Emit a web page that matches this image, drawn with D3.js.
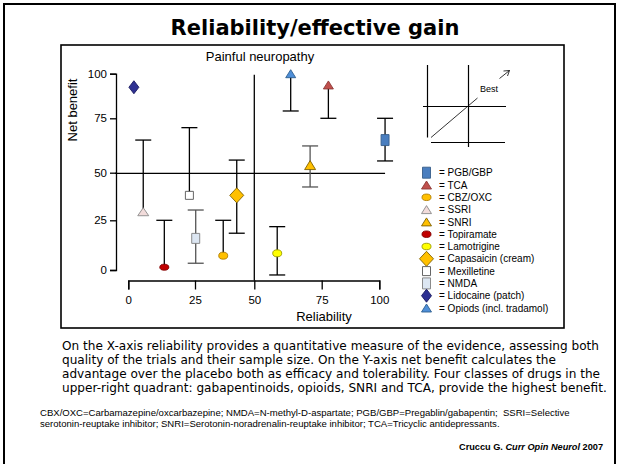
<!DOCTYPE html>
<html>
<head>
<meta charset="utf-8">
<script src="https://cdn.jsdelivr.net/npm/d3@7"></script>
<style>
  body { margin: 0; background: #fff; }
  svg { display: block; }
  .axis text { font-family: "Liberation Sans", Arial, sans-serif; font-size: 11.5px; fill: #000; }
  .axis path, .axis line { stroke: #000; stroke-width: 1.3; }
</style>
</head>
<body>
<div id="chart"></div>
<script>
// data
var drugs = ["PGB/GBP", "TCA", "CBZ/OXC", "SSRI", "SNRI", "Topiramate", "Lamotrigine",
             "Capasaicin (cream)", "Mexilletine", "NMDA", "Lidocaine (patch)", "Opiods (incl. tradamol)"];
var reliability = [102.5, 77.9, 36.9, 5.6, 70.7, 13.5, 58.5, 42.6, 22.9, 25.3, 2.1, 63.5];
var netBenefit  = [65, 93.7, 7.2, 29.5, 53.5, 1.4, 8.4, 38.1, 38.1, 15.9, 92.4, 100];
var errLow      = [55.4, 75, null, null, 42.5, null, -2.5, 18.5, null, 3.4, null, 79.1];
var errHigh     = [75, null, 25, 65, 62.3, 25, 21.8, 55.8, 70.7, 30.4, null, null];
var xTicks = [0, 25, 50, 75, 100];
var yTicks = [0, 25, 50, 75, 100];

// marker look for each drug
var look = {
    "PGB/GBP":              { shape: "rect",    w: 8,  h: 11, fill: "#4a7ebf", stroke: "#385d8a" },
    "TCA":                  { shape: "tri",     w: 10, h: 8,  fill: "#c0504d", stroke: "#8c3836" },
    "CBZ/OXC":              { shape: "ellipse", w: 9,  h: 7,  fill: "#ffc000", stroke: "#b07d00" },
    "SSRI":                 { shape: "tri",     w: 11, h: 8,  fill: "#f2dcdb", stroke: "#8a8a8a" },
    "SNRI":                 { shape: "tri",     w: 11, h: 9,  fill: "#ffc000", stroke: "#7f6000" },
    "Topiramate":           { shape: "ellipse", w: 9,  h: 6,  fill: "#c00000", stroke: "#800000" },
    "Lamotrigine":          { shape: "ellipse", w: 9,  h: 7,  fill: "#ffff00", stroke: "#9a9a00" },
    "Capasaicin (cream)":   { shape: "diamond", w: 14, h: 15, fill: "#ffc000", stroke: "#7f6000" },
    "Mexilletine":          { shape: "rect",    w: 8,  h: 8,  fill: "#ffffff", stroke: "#555" },
    "NMDA":                 { shape: "rect",    w: 8,  h: 10, fill: "#dce6f2", stroke: "#7f7f7f" },
    "Lidocaine (patch)":    { shape: "diamond", w: 10, h: 13, fill: "#2e3192", stroke: "#1a1a60" },
    "Opiods (incl. tradamol)": { shape: "tri",  w: 10, h: 8,  fill: "#4f8fd8", stroke: "#2c5d8f" }
};
var grayBars = { "SNRI": true, "NMDA": true };

function shapePath(s) {
    var w = s.w / 2, h = s.h / 2;
    if (s.shape == "rect") return `M${-w},${-h}H${w}V${h}H${-w}Z`;
    if (s.shape == "tri") return `M0,${-h}L${w},${h}L${-w},${h}Z`;
    if (s.shape == "diamond") return `M0,${-h}L${w},0L0,${h}L${-w},0Z`;
    // ellipse
    return `M${-w},0A${w},${h} 0 1,0 ${w},0A${w},${h} 0 1,0 ${-w},0Z`;
}

var svg = d3.select("#chart").append("svg")
    .attr("width", 620)
    .attr("height", 464);

// slide frame
svg.append("rect")
    .attr("x", 4).attr("y", 4)
    .attr("width", 611).attr("height", 480)
    .attr("fill", "none").attr("stroke", "#000").attr("stroke-width", 2);

svg.append("text")
    .attr("x", 315).attr("y", 35)
    .attr("text-anchor", "middle")
    .attr("font-family", "DejaVu Sans, Verdana, sans-serif")
    .attr("font-weight", "bold")
    .attr("font-size", "21px")
    .text("Reliability/effective gain");

// chart box
svg.append("rect")
    .attr("x", 61).attr("y", 45)
    .attr("width", 503).attr("height", 283)
    .attr("fill", "none").attr("stroke", "#000").attr("stroke-width", 1.6);

// hand drawn axes are uneven, so the scales are piecewise
var xScale = d3.scaleLinear().domain(xTicks).range([128.3, 195, 254.3, 321.7, 379.3]);
var yScale = d3.scaleLinear().domain(yTicks).range([270, 220.3, 172.7, 118.3, 73.7]);
var xAxisY = 280.5, yAxisX = 116;

svg.append("g")
    .attr("class", "axis")
    .attr("transform", `translate(0, ${xAxisY})`)
    .call(d3.axisBottom(xScale).tickValues(xTicks).tickSize(9).tickPadding(6));

svg.append("g")
    .attr("class", "axis")
    .attr("transform", `translate(${yAxisX}, 0)`)
    .call(d3.axisLeft(yScale).tickValues(yTicks).tickSize(6).tickPadding(3));

svg.selectAll(".axis").attr("font-family", null).attr("font-size", null);

// quadrant lines
svg.append("line")
    .attr("x1", xScale(50)).attr("x2", xScale(50))
    .attr("y1", yScale(100) + 1).attr("y2", xAxisY)
    .attr("stroke", "#000").attr("stroke-width", 1.3);
svg.append("line")
    .attr("x1", xScale(-5)).attr("x2", xScale(102.5))
    .attr("y1", yScale(50) + 0.6).attr("y2", yScale(50) + 0.6)
    .attr("stroke", "#000").attr("stroke-width", 1.3);

var label = { "font-family": "Liberation Sans, Arial, sans-serif", "font-size": "13px" };
svg.append("text")
    .attr("x", 260).attr("y", 61)
    .attr("text-anchor", "middle")
    .attr("font-family", label["font-family"]).attr("font-size", label["font-size"])
    .text("Painful neuropathy");
svg.append("text")
    .attr("transform", "translate(77, 110) rotate(-90)")
    .attr("text-anchor", "middle")
    .attr("font-family", label["font-family"]).attr("font-size", label["font-size"])
    .text("Net benefit");
svg.append("text")
    .attr("x", 324).attr("y", 321)
    .attr("text-anchor", "middle")
    .attr("font-family", label["font-family"]).attr("font-size", label["font-size"])
    .text("Reliability");

// error bars
var rows = drugs.map((d, i) => ({
    drug: d, x: reliability[i], y: netBenefit[i], lo: errLow[i], hi: errHigh[i]
}));
var capW = 8;
var bars = svg.append("g");
rows.forEach(function (r) {
    var col = grayBars[r.drug] ? "#555" : "#000";
    var top = r.hi != null ? r.hi : r.y;
    var bot = r.lo != null ? r.lo : r.y;
    if (top == bot) return;
    bars.append("line")
        .attr("x1", xScale(r.x)).attr("x2", xScale(r.x))
        .attr("y1", yScale(top)).attr("y2", yScale(bot))
        .attr("stroke", col).attr("stroke-width", 1.3);
    [r.hi, r.lo].forEach(function (v) {
        if (v == null) return;
        bars.append("line")
            .attr("x1", xScale(r.x) - capW).attr("x2", xScale(r.x) + capW)
            .attr("y1", yScale(v)).attr("y2", yScale(v))
            .attr("stroke", col).attr("stroke-width", 1.3);
    });
});

// markers
svg.append("g").selectAll("path")
    .data(rows)
    .enter()
    .append("path")
    .attr("transform", d => `translate(${xScale(d.x)}, ${yScale(d.y)})`)
    .attr("d", d => shapePath(look[d.drug]))
    .attr("fill", d => look[d.drug].fill)
    .attr("stroke", d => look[d.drug].stroke)
    .attr("stroke-width", 0.9);

// "Best" sketch
var sketch = svg.append("g").attr("stroke", "#000").attr("stroke-width", 1.2);
sketch.append("line").attr("x1", 427.5).attr("x2", 427.5).attr("y1", 65).attr("y2", 137.5);
sketch.append("line").attr("x1", 468.5).attr("x2", 468.5).attr("y1", 65).attr("y2", 147);
sketch.append("line").attr("x1", 423).attr("x2", 506).attr("y1", 106.5).attr("y2", 106.5);
sketch.append("line").attr("x1", 431).attr("x2", 505).attr("y1", 142.5).attr("y2", 142.5);
sketch.append("line").attr("x1", 431).attr("y1", 137.5).attr("x2", 477.5).attr("y2", 98)
    .attr("stroke-width", 0.8);
sketch.append("line").attr("x1", 499.5).attr("y1", 78.5).attr("x2", 509.5).attr("y2", 70.5)
    .attr("stroke-width", 0.8);
sketch.append("path").attr("d", "M503.5,71L509.5,70.5L507.5,76").attr("fill", "none")
    .attr("stroke-width", 0.8);
svg.append("text")
    .attr("x", 489).attr("y", 91.5)
    .attr("text-anchor", "middle")
    .attr("font-family", label["font-family"]).attr("font-size", "9px")
    .text("Best");

// legend
var legend = svg.append("g").selectAll("g")
    .data(rows)
    .enter()
    .append("g")
    .attr("transform", (d, i) => `translate(426.5, ${172.7 + i * 12.3})`);
legend.append("path")
    .attr("d", function (d) {
        var s = Object.assign({}, look[d.drug]);
        if (s.shape == "rect") { s.w = 8; s.h = s.h > 8 ? 11 : 9; }
        if (s.shape == "ellipse") { s.w = 9; s.h = 6.5; }
        if (s.shape == "tri") { s.w = 10; s.h = 8; }
        return shapePath(s);
    })
    .attr("fill", d => look[d.drug].fill)
    .attr("stroke", d => look[d.drug].stroke)
    .attr("stroke-width", 0.9);
legend.append("text")
    .attr("x", 12.5)
    .attr("y", 3.6)
    .attr("font-family", label["font-family"]).attr("font-size", "10px")
    .text(d => "= " + d.drug);

// notes under the chart
var para = [
    "On the X-axis reliability provides a quantitative measure of the evidence, assessing both",
    "quality of the trials and their sample size. On the Y-axis net benefit calculates the",
    "advantage over the placebo both as efficacy and tolerability. Four classes of drugs in the",
    "upper-right quadrant: gabapentinoids, opioids, SNRI and TCA, provide the highest benefit."
];
svg.append("g").selectAll("text")
    .data(para)
    .enter()
    .append("text")
    .attr("x", 62)
    .attr("y", (d, i) => 350 + i * 14)
    .attr("font-family", "DejaVu Sans, Verdana, sans-serif")
    .attr("font-size", "12.1px")
    .text(d => d);

var notes = [
    "CBX/OXC=Carbamazepine/oxcarbazepine; NMDA=N-methyl-D-aspartate; PGB/GBP=Pregablin/gabapentin;  SSRI=Selective",
    "serotonin-reuptake inhibitor; SNRI=Serotonin-noradrenalin-reuptake inhibitor; TCA=Tricyclic antidepressants."
];
var noteText = svg.append("g").selectAll("text")
    .data(notes)
    .enter()
    .append("text")
    .attr("x", 40)
    .attr("y", (d, i) => 416 + i * 11)
    .attr("font-family", label["font-family"])
    .attr("font-size", "10px")
    .style("white-space", "pre")
    .text(d => d);

// size the footnote so its first line runs to about x=570, as on the slide
var firstLen = noteText.node().getComputedTextLength();
var noteSize = 10 * 530 / firstLen;
noteText.attr("font-size", noteSize.toFixed(2) + "px");

var cite = svg.append("text")
    .attr("x", 603).attr("y", 450)
    .attr("text-anchor", "end")
    .attr("font-family", label["font-family"])
    .attr("font-size", "9.2px")
    .attr("font-weight", "bold");
cite.append("tspan").text("Cruccu G. ");
cite.append("tspan").attr("font-style", "italic").text("Curr Opin Neurol");
cite.append("tspan").text(" 2007");
</script>
</body>
</html>
